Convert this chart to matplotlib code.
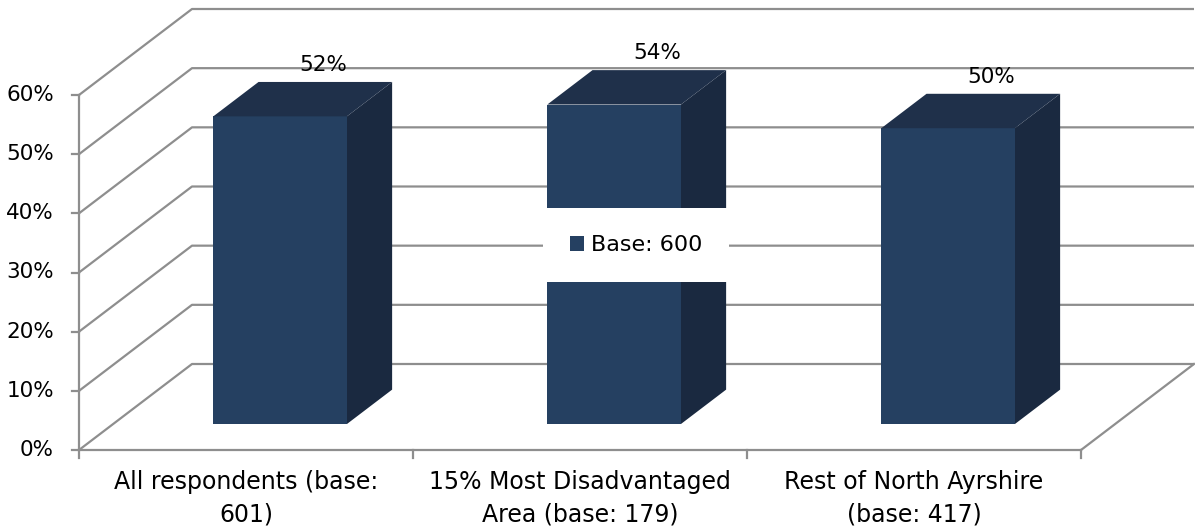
import matplotlib
matplotlib.use("Agg")
import matplotlib.pyplot as plt
from matplotlib.patches import Polygon, Patch

# Survey results
categories = ["All respondents (base:\n601)",
              "15% Most Disadvantaged\nArea (base: 179)",
              "Rest of North Ayrshire\n(base: 417)"]
values = [52, 54, 50]
value_labels = ["52%", "54%", "50%"]
y_ticks = [0, 10, 20, 30, 40, 50, 60]
y_tick_labels = ["0%", "10%", "20%", "30%", "40%", "50%", "60%"]
series_name = "Base: 600"

FRONT = "#254061"
TOP = "#1f304a"
SIDE = "#1a2940"
GRID = "#8e8e8e"
FS_TICK = 15.5
FS_CAT = 17
FS_LEG = 16

W, H, DPI = 1195, 529, 100
fig = plt.figure(figsize=(W / DPI, H / DPI), dpi=DPI)
ax = fig.add_axes([0, 0, 1, 1])
ax.set_axis_off()

# Front plane: x in category units, y in percent
x0_px, x1_px = 79, 1081
y0_px, y60_px = 450, 95
ncat = len(categories)
cat_px = (x1_px - x0_px) / ncat
pct_px = (y0_px - y60_px) / 60.0
ax.set_xlim(-x0_px / cat_px, (W - x0_px) / cat_px)
ax.set_ylim((y0_px - H) / pct_px, y0_px / pct_px)

# Oblique depth of the box (full depth)
DX = 113 / cat_px
DY = 86 / pct_px
ymax = y_ticks[-1]

# Walls and gridlines
for v in y_ticks:
    ax.plot([0, DX, ncat + DX], [v, v + DY, v + DY], color=GRID, lw=1.6,
            solid_capstyle="butt", zorder=1)
# Floor right edge
ax.plot([ncat + DX, ncat], [DY, 0], color=GRID, lw=1.6, zorder=1)
# Front axes
ax.plot([0, ncat], [0, 0], color=GRID, lw=1.6, zorder=1)
ax.plot([0, 0], [0, ymax], color=GRID, lw=1.6, zorder=1)
tick_len_x = 7 / cat_px
tick_len_y = 8 / pct_px
for v, lab in zip(y_ticks, y_tick_labels):
    ax.plot([-tick_len_x, 0], [v, v], color=GRID, lw=1.6, zorder=1)
    ax.annotate(lab, (0, v), xytext=(-25, 0), textcoords="offset pixels",
                ha="right", va="center", fontsize=FS_TICK, color="black")
for i in range(ncat + 1):
    ax.plot([i, i], [0, -tick_len_y], color=GRID, lw=1.6, zorder=1)
for i, lab in enumerate(categories):
    ax.annotate(lab, (i + 0.5, 0), xytext=(0, -20), textcoords="offset pixels",
                ha="center", va="top", fontsize=FS_CAT, color="black",
                linespacing=1.45)

# 3D bars
depth_front = 0.302
bar_w = 0.40
bar_d = 0.40
bx = depth_front * DX
by = depth_front * DY
ddx = bar_d * DX
ddy = bar_d * DY
for i, (v, lab) in enumerate(zip(values, value_labels)):
    left = i + 0.5 - bar_w / 2 + bx
    right = left + bar_w
    bot = by
    top = by + v
    front = Polygon([(left, bot), (right, bot), (right, top), (left, top)],
                    closed=True, facecolor=FRONT, edgecolor="none", zorder=3)
    topf = Polygon([(left, top), (right, top), (right + ddx, top + ddy),
                    (left + ddx, top + ddy)],
                   closed=True, facecolor=TOP, edgecolor="none", zorder=3)
    side = Polygon([(right, bot), (right + ddx, bot + ddy),
                    (right + ddx, top + ddy), (right, top)],
                   closed=True, facecolor=SIDE, edgecolor="none", zorder=3)
    for p in (side, front, topf):
        ax.add_patch(p)
    ax.annotate(lab, ((left + right) / 2 + ddx, top + ddy), xytext=(-2, 17),
                textcoords="offset pixels", ha="center", va="center",
                fontsize=FS_TICK, color="black", zorder=5)

# Legend
handle = Patch(facecolor=FRONT, edgecolor="none")
leg = fig.legend([handle], [series_name], loc="center",
                 bbox_to_anchor=(636 / W, 1 - 245 / H), frameon=True,
                 fontsize=FS_LEG, handlelength=0.65, handleheight=0.65,
                 handletextpad=0.3, borderpad=1.2, borderaxespad=0,
                 fancybox=False)
leg.get_frame().set_facecolor("white")
leg.get_frame().set_edgecolor("none")
leg.get_frame().set_alpha(1)
leg.set_zorder(10)

fig.savefig("out.png", dpi=DPI, facecolor="white")
